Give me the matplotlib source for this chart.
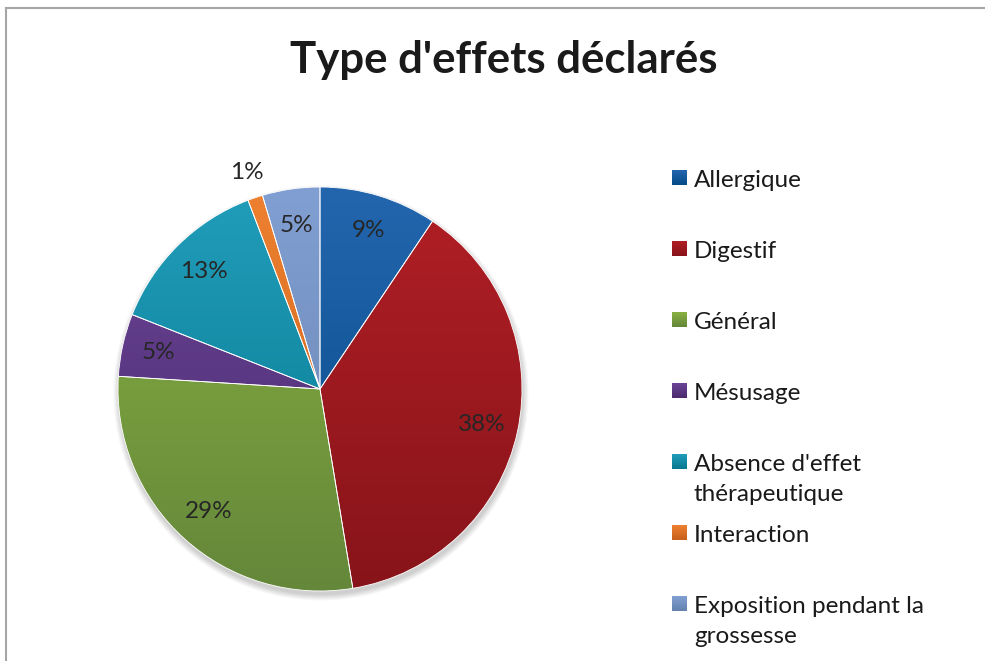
import numpy as np
import matplotlib
matplotlib.use("Agg")
import matplotlib.pyplot as plt
from matplotlib.colors import LinearSegmentedColormap
from matplotlib.patches import Circle
from matplotlib.lines import Line2D

plt.rcParams['font.family'] = ['Lato', 'DejaVu Sans']

# données
categories = ["Allergique", "Digestif", "Général", "Mésusage",
              "Absence d'effet\nthérapeutique", "Interaction",
              "Exposition pendant la\ngrossesse"]
valeurs = [9.4, 38.0, 28.6, 5.0, 13.2, 1.2, 4.6]
couleurs_haut = ["#2466AE", "#B11F25", "#88B141", "#6B4598",
                 "#219DBA", "#EE8130", "#829FD3"]
couleurs_bas = ["#034A86", "#87141A", "#64873A", "#4A2A6C",
                "#07788F", "#C65F1C", "#6482AD"]
titre = "Type d'effets déclarés"

W, H = 985, 661
fig = plt.figure(figsize=(W / 100, H / 100), dpi=100)
ax = fig.add_axes([0, 0, 1, 1])

cx, cy, R = 320, H - 389, 202

# ombre légère sous le camembert
for k in range(8):
    ax.add_patch(Circle((cx + 1, cy - 4), R + k * 0.8, color='black',
                        alpha=0.025, lw=0, zorder=0))

wedges, textes, pcts = ax.pie(valeurs, colors=couleurs_haut, startangle=90,
                              counterclock=False, center=(cx, cy), radius=R,
                              autopct='%.0f%%', pctdistance=0.82,
                              wedgeprops=dict(linewidth=0.6, edgecolor='white'),
                              textprops=dict(fontsize=17.5, color='#262626'),
                              frame=True)
ax.set_xlim(0, W)
ax.set_ylim(0, H)
ax.set_aspect('equal')
ax.axis('off')

# dégradé vertical dans chaque part
grad = np.linspace(0, 1, 256).reshape(-1, 1)
for w, c1, c2 in zip(wedges, couleurs_haut, couleurs_bas):
    cmap = LinearSegmentedColormap.from_list('g', [c2, c1])
    im = ax.imshow(grad, cmap=cmap, origin='lower', aspect='auto',
                   extent=(cx - R, cx + R, cy - R, cy + R), zorder=1)
    im.set_clip_path(w)
    w.set_zorder(2)
    w.set_facecolor('none')

for t in pcts:
    t.set_zorder(5)

# petite part : étiquette à l'extérieur
ang = np.deg2rad((wedges[5].theta1 + wedges[5].theta2) / 2)
pcts[5].set_position((cx + 1.13 * R * np.cos(ang), cy + 1.13 * R * np.sin(ang)))

ax.text(504, H - 60, titre, ha='center', va='center', fontsize=31.5,
        fontweight='bold', color='#1a1a1a')

# légende
y0, pas = 178, 71
for i, (lab, c1, c2) in enumerate(zip(categories, couleurs_haut, couleurs_bas)):
    yc = H - (y0 + i * pas)
    cmap = LinearSegmentedColormap.from_list('g', [c2, c1])
    ax.imshow(grad, cmap=cmap, origin='lower', aspect='auto',
              extent=(672, 687, yc - 7.5, yc + 7.5), zorder=3)
    ax.text(694, yc + 8, lab, ha='left', va='top', fontsize=17.5,
            color='#1a1a1a', linespacing=1.55)

ax.set_xlim(0, W)
ax.set_ylim(0, H)

# cadre
fig.add_artist(Line2D([6 / W, 6 / W], [0, 1 - 8 / H], color='#A6A6A6', lw=1.5))
fig.add_artist(Line2D([6 / W, 1], [1 - 8 / H, 1 - 8 / H], color='#A6A6A6', lw=1.5))

fig.savefig('out.png', dpi=100)
